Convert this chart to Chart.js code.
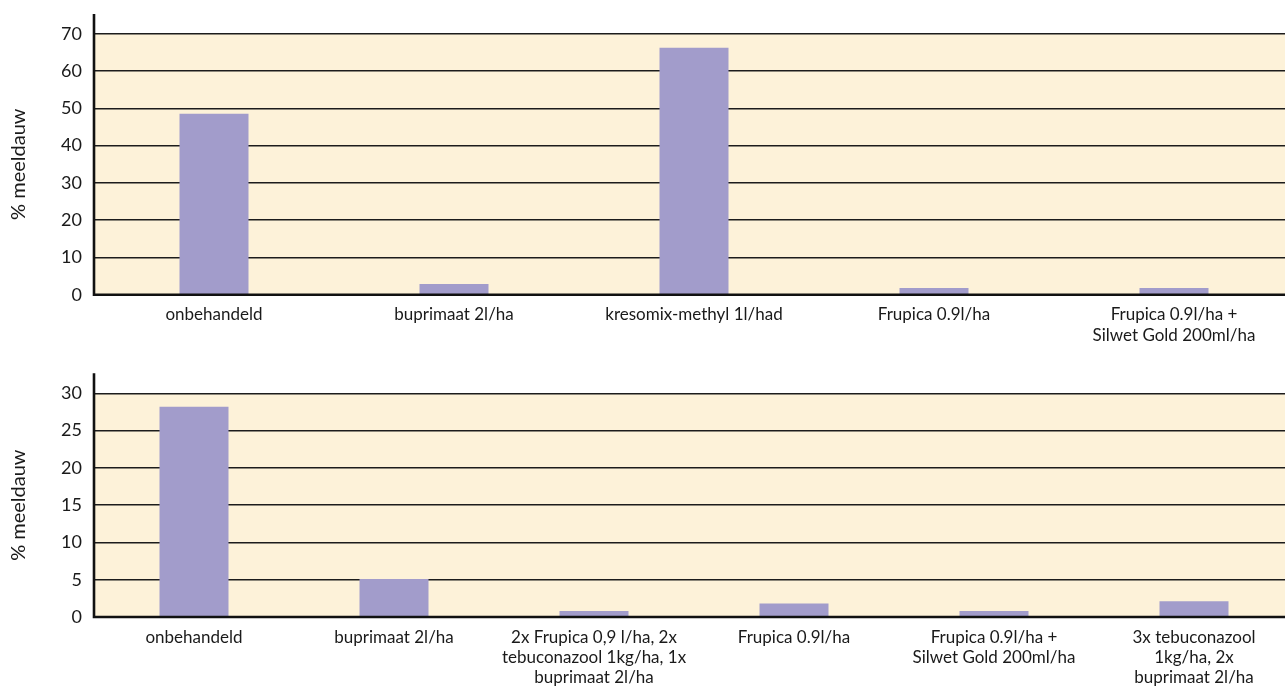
<!DOCTYPE html>
<html><head><meta charset="utf-8">
<script src="https://cdn.jsdelivr.net/npm/chart.js@4/dist/chart.umd.min.js"></script>
<style>
html,body{margin:0;padding:0;background:#fff;overflow:hidden;width:1285px;height:686px;}
.box{position:absolute;left:0;width:1294px;}
#b1{top:0;height:350px;}
#b2{top:350px;height:336px;}
</style></head><body>
<div class="box" id="b1"><canvas id="c1"></canvas></div>
<div class="box" id="b2"><canvas id="c2"></canvas></div>
<script>
// ---- data ----
const categoriesTop = ['onbehandeld', 'buprimaat 2l/ha', 'kresomix-methyl 1l/had', 'Frupica 0.9l/ha', ['Frupica 0.9l/ha +', 'Silwet Gold 200ml/ha']];
const valuesTop = [48.5, 2.9, 66.2, 1.8, 1.8];
const yMaxTop = 70;
const yStepTop = 10;

const categoriesBottom = ['onbehandeld', 'buprimaat 2l/ha', ['2x Frupica 0,9 l/ha, 2x', 'tebuconazool 1kg/ha, 1x', 'buprimaat 2l/ha'], 'Frupica 0.9l/ha', ['Frupica 0.9l/ha +', 'Silwet Gold 200ml/ha'], ['3x tebuconazool', '1kg/ha, 2x', 'buprimaat 2l/ha']];
const valuesBottom = [28.2, 5.1, 0.8, 1.8, 0.8, 2.1];
const yMaxBottom = 30;
const yStepBottom = 5;

const yTitle = '% meeldauw';

// ---- styling ----
Chart.defaults.font.family = 'Lato, "Open Sans", sans-serif';
Chart.defaults.color = '#1a1a1a';
const BAR = '#A29CCB';
const BG = '#FDF2D9';

const framePlugin = {
  id: 'frame',
  beforeDraw(chart, args, opts) {
    const {ctx, chartArea: a} = chart;
    ctx.save();
    ctx.fillStyle = BG;
    ctx.fillRect(a.left, a.top, a.right - a.left, a.bottom - a.top);
    ctx.restore();
  },
  afterDatasetsDraw(chart, args, opts) {
    const {ctx, chartArea: a} = chart;
    ctx.save();
    ctx.strokeStyle = '#111';
    ctx.lineWidth = 2.6;
    ctx.beginPath();
    ctx.moveTo(a.left, a.top - opts.ext);
    ctx.lineTo(a.left, a.bottom);
    ctx.lineTo(a.right + 5, a.bottom);
    ctx.stroke();
    ctx.restore();
  }
};

function makeChart(id, cats, vals, yMax, yStep, padTop, xHeight, barPct, ext) {
  return new Chart(document.getElementById(id), {
    type: 'bar',
    data: {
      labels: cats,
      datasets: [{ data: vals, backgroundColor: BAR, borderWidth: 0, barPercentage: barPct, categoryPercentage: 1 }]
    },
    plugins: [framePlugin],
    options: {
      responsive: true,
      maintainAspectRatio: false,
      animation: false,
      events: [],
      layout: { padding: { top: padTop, left: 0, right: 0, bottom: 0 } },
      plugins: { legend: { display: false }, tooltip: { enabled: false }, frame: { ext: ext } },
      scales: {
        x: {
          grid: { display: false, drawTicks: false },
          border: { display: false },
          ticks: { autoSkip: false, maxRotation: 0, minRotation: 0, padding: 10, color: '#1a1a1a', font: { size: 17, lineHeight: 1.2 } },
          afterFit(s) { s.height = xHeight; }
        },
        y: {
          min: 0, max: yMax,
          grid: { color: '#1c1c1c', lineWidth: 1.4, drawTicks: false },
          border: { display: false },
          ticks: { stepSize: yStep, padding: 12, color: '#1a1a1a', font: { size: 18 } },
          title: { display: true, text: yTitle, color: '#1a1a1a', font: { size: 20 }, padding: { top: 7, bottom: 0 } },
          afterFit(s) { s.width = 94; }
        }
      }
    }
  });
}

makeChart('c1', categoriesTop, valuesTop, yMaxTop, yStepTop, 33.7, 55.3, 69 / 240, 19.7);
makeChart('c2', categoriesBottom, valuesBottom, yMaxBottom, yStepBottom, 43.3, 69, 69 / 200, 20);
</script>
</body></html>
